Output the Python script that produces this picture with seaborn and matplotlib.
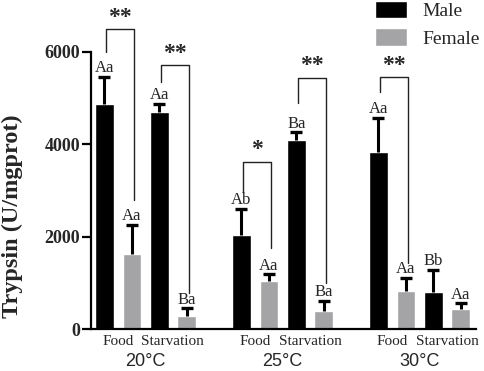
import numpy as np
import pandas as pd
import matplotlib
matplotlib.use("Agg")
import matplotlib.pyplot as plt
import matplotlib.transforms as mtransforms
import seaborn as sns

# ---------------- data ----------------
temps = ["20°C", "25°C", "30°C"]
treatments = ["Food", "Starvation"]
sexes = ["Male", "Female"]

male_mean = [4870, 4690, 2030, 4090, 3830, 800]
male_sd = [590, 190, 570, 170, 750, 475]
female_mean = [1630, 290, 1045, 400, 823, 428]
female_sd = [620, 160, 140, 210, 290, 130]

male_letters = ["Aa", "Aa", "Ab", "Ba", "Aa", "Bb"]
female_letters = ["Aa", "Ba", "Aa", "Ba", "Aa", "Aa"]

sig_marks = ["**", "**", "*", "**", "**", ""]
sig_top = [6500, 5720, 3620, 5440, 5460, None]
sig_left_end = [6000, 5350, 2970, 4900, 5135, None]
sig_right_end = [2800, 780, 1755, 1000, 1430, None]

colors = {"Male": "#000000", "Female": "#a4a4a7"}

# ---------------- table ----------------
rows = []
order = []
for ti, t in enumerate(temps):
    for tr_i, tr in enumerate(treatments):
        k = ti * 2 + tr_i
        for s, means, sds in (("Male", male_mean, male_sd), ("Female", female_mean, female_sd)):
            slot = f"{t}|{tr}|{s}"
            rows.append({"slot": slot, "Sex": s, "mean": means[k], "sd": sds[k]})
            order.append(slot)
    if ti < len(temps) - 1:
        order.append(f"gap{ti}")
df = pd.DataFrame(rows)
pos = {name: i for i, name in enumerate(order)}
df["x"] = df["slot"].map(pos)

# ---------------- figure ----------------
sns.set_style("ticks")
serif = ["Liberation Serif", "DejaVu Serif"]
sans = ["Liberation Sans", "DejaVu Sans"]
plt.rcParams["font.family"] = serif

fig = plt.figure(figsize=(4.84, 3.71), dpi=100)
ax = fig.add_axes([91 / 484, 1 - 329 / 371, (476 - 91) / 484, (329 - 52) / 371])

sns.barplot(data=df, x="slot", y="mean", hue="Sex", order=order, hue_order=sexes,
            palette=colors, dodge=False, width=0.68, saturation=1, errorbar=None,
            ax=ax, legend=True)

# error bars (upper only)
ax.vlines(df["x"], df["mean"], df["mean"] + df["sd"], color="black", lw=2.2, zorder=3)
ax.plot(df["x"], df["mean"] + df["sd"], ls="none", marker="_", ms=9, mew=2.4,
        color="black", zorder=3)

# letters
for _, r in df.iterrows():
    t, tr, s = r["slot"].split("|")
    idx = temps.index(t) * 2 + treatments.index(tr)
    lab = male_letters[idx] if s == "Male" else female_letters[idx]
    ax.annotate(lab, (r["x"], r["mean"] + r["sd"]), xytext=(0, 3.4),
                textcoords="offset points", ha="center", va="baseline",
                fontsize=12, family=serif, annotation_clip=False)

# significance brackets
for k in range(6):
    if not sig_marks[k]:
        continue
    t = temps[k // 2]
    tr = treatments[k % 2]
    xl = pos[f"{t}|{tr}|Male"] + 0.05
    xr = pos[f"{t}|{tr}|Female"] + 0.08
    ax.plot([xl, xl, xr, xr], [sig_left_end[k], sig_top[k], sig_top[k], sig_right_end[k]],
            color="#222222", lw=1.0, clip_on=False, zorder=4)
    ax.annotate(sig_marks[k], ((xl + xr) / 2, sig_top[k]), xytext=(0, 1),
                textcoords="offset points", ha="center", va="bottom",
                fontsize=17, fontweight="bold", family=serif, annotation_clip=False)

# axes styling
ax.set_ylim(0, 6000)
ax.set_xlim(-0.49, 13.56)
ax.set_yticks([0, 2000, 4000, 6000])
ax.set_yticklabels(["0", "2000", "4000", "6000"], fontsize=13, fontweight="bold",
                   family=serif)
ax.tick_params(axis="y", length=6.5, width=1.6, pad=1.5, color="black")

tick_pos = []
tick_lab = []
for t in temps:
    for tr in treatments:
        tick_pos.append(pos[f"{t}|{tr}|Male"] + 0.5)
        tick_lab.append(tr)
ax.set_xticks(tick_pos)
ax.set_xticklabels(tick_lab, fontsize=11, family=serif)
ax.tick_params(axis="x", length=0, pad=4)

trans = mtransforms.blended_transform_factory(ax.transData, fig.transFigure)
for t in temps:
    xc = (pos[f"{t}|Food|Male"] + pos[f"{t}|Starvation|Female"]) / 2
    ax.text(xc, 1 - 361 / 371, t, transform=trans, ha="center", va="center",
            fontsize=13, family=sans)

ax.set_xlabel("")
ax.set_ylabel("")
fig.text(12 / 484, 1 - 216 / 371, "Trypsin (U/mgprot)", rotation=90, ha="center",
         va="center", fontsize=17.5, fontweight="bold", family=serif)

for side in ("top", "right"):
    ax.spines[side].set_visible(False)
for side in ("left", "bottom"):
    ax.spines[side].set_linewidth(1.6)
    ax.spines[side].set_color("black")

# legend
handles, labels = ax.get_legend_handles_labels()
if ax.get_legend() is not None:
    ax.get_legend().remove()
ax.legend(handles, labels, loc="upper left", bbox_to_anchor=(375 / 484, 1 - 1 / 371),
          bbox_transform=fig.transFigure, frameon=False, borderpad=0, borderaxespad=0,
          handlelength=1.65, handleheight=1.0, handletextpad=0.8, labelspacing=0.4,
          prop={"family": serif, "size": 14})

fig.savefig("out.png", dpi=100)
